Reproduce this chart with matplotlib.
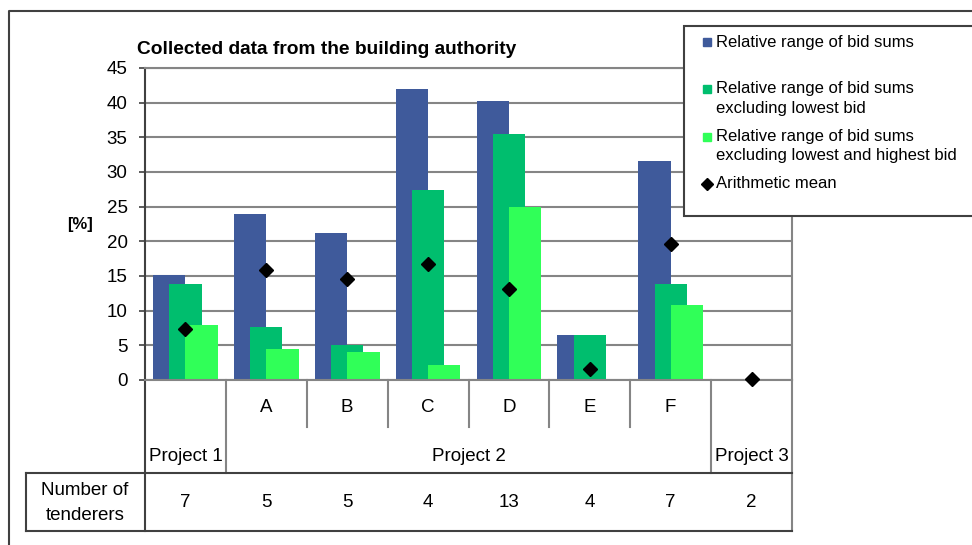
import numpy as np
import matplotlib.pyplot as plt
from matplotlib.patches import Rectangle
from matplotlib.lines import Line2D

plt.rcParams['font.family'] = ['Liberation Sans', 'DejaVu Sans']

# data
sub_labels = ['', 'A', 'B', 'C', 'D', 'E', 'F', '']
project_labels = ['Project 1', 'Project 2', 'Project 3']
project_spans = [(0, 0), (1, 6), (7, 7)]
range_all = [15.2, 24.0, 21.2, 41.9, 40.3, 6.5, 31.6, 0.2]
range_excl_low = [13.8, 7.7, 5.1, 27.4, 35.5, 6.5, 13.8, 0.0]
range_excl_low_high = [8.0, 4.5, 4.1, 2.2, 25.0, 0.0, 10.8, 0.0]
arith_mean = [7.3, 15.8, 14.6, 16.8, 13.1, 1.6, 19.6, 0.15]
tenderers = [7, 5, 5, 4, 13, 4, 7, 2]
yticks = [0, 5, 10, 15, 20, 25, 30, 35, 40, 45]
legend_labels = ['Relative range of bid sums',
                 'Relative range of bid sums\nexcluding lowest bid',
                 'Relative range of bid sums\nexcluding lowest and highest bid',
                 'Arithmetic mean']

BLUE = '#3F5A9B'
GREEN = '#00BE6E'
LGREEN = '#30FF58'
DARK = '#404040'
GRAY = '#858585'

W, H = 972, 545


def fx(px):
    return px / W


def fy(py):
    return 1 - py / H


fig = plt.figure(figsize=(9.72, 5.45), dpi=100)
ax = fig.add_axes([fx(145), fy(380), 647 / W, 312 / H])

x = np.arange(len(range_all))
ax.bar(x - 0.2, range_all, 0.4, color=BLUE, zorder=2)
ax.bar(x, range_excl_low, 0.4, color=GREEN, zorder=2)
ax.bar(x + 0.2, range_excl_low_high, 0.4, color=LGREEN, zorder=2)
ax.plot(x, arith_mean, 'D', color='black', ms=7, ls='none', zorder=4, clip_on=False)

ax.set_xlim(-0.5, len(x) - 0.5)
ax.set_ylim(0, 45)
ax.set_yticks(yticks)
ax.set_xticks([])
ax.tick_params(axis='y', length=4.5, width=1.2, color=DARK, pad=8, labelsize=13.5)
ax.yaxis.grid(True, color=GRAY, lw=1.5)
ax.set_axisbelow(True)
for side in ['top', 'right', 'bottom']:
    ax.spines[side].set_color(GRAY)
    ax.spines[side].set_linewidth(1.5)
ax.spines['left'].set_color(DARK)
ax.spines['left'].set_linewidth(1.5)

# category area below the axis
tx = ax.get_xaxis_transform()
y_half, y_row, y_tab = -0.1506, -0.298, -0.484
edges = set()
for a, b in project_spans:
    edges.add(a)
    edges.add(b + 1)
for b in range(len(x) + 1):
    xb = b - 0.5
    if b in (0, len(x)):
        ax.plot([xb, xb], [0, y_tab], color=DARK if b == 0 else GRAY, lw=1.5,
                transform=tx, clip_on=False)
    elif b in edges:
        ax.plot([xb, xb], [0, y_row], color=GRAY, lw=1.5, transform=tx, clip_on=False)
    else:
        ax.plot([xb, xb], [0, y_half], color=GRAY, lw=1.5, transform=tx, clip_on=False)

for i, s in enumerate(sub_labels):
    ax.text(i, -0.0897, s, transform=tx, ha='center', va='center', fontsize=13.5)
for (a, b), s in zip(project_spans, project_labels):
    ax.text((a + b) / 2, -0.2436, s, transform=tx, ha='center', va='center', fontsize=13.5)
for i, n in enumerate(tenderers):
    ax.text(i, -0.394, str(n), transform=tx, ha='center', va='center', fontsize=13.5)

# table of tenderers
ta = ax.transAxes
x_tab = (26 - 145) / 647
for yy in (y_row, y_tab):
    ax.plot([x_tab, 1], [yy, yy], color=DARK, lw=1.5, transform=ta, clip_on=False)
ax.plot([x_tab, x_tab], [y_row, y_tab], color=DARK, lw=1.5, transform=ta, clip_on=False)
ax.text((85 - 145) / 647, -0.394, 'Number of\ntenderers', transform=ta,
        ha='center', va='center', fontsize=13.5, linespacing=1.6)

# titles
fig.text(fx(137), fy(49), 'Collected data from the building authority',
         fontsize=13.8, fontweight='bold', va='center', ha='left')
fig.text(fx(80), fy(224), '[%]', fontsize=12, fontweight='bold', ha='center', va='center')

# outer frame
fig.add_artist(Line2D([fx(9), fx(9), fx(975)], [fy(548), fy(11), fy(11)],
                      color=DARK, lw=1.5, transform=fig.transFigure))

# legend box
fig.add_artist(Rectangle((fx(684), fy(216)), fx(980) - fx(684), fy(26) - fy(216),
                         transform=fig.transFigure, facecolor='white',
                         edgecolor=DARK, lw=1.5, zorder=5))
leg_y = [42, 98.5, 146, 184]
leg_colors = [BLUE, GREEN, LGREEN, None]
for lab, yy, c in zip(legend_labels, leg_y, leg_colors):
    first = yy if '\n' not in lab else yy - 9.5
    if c is None:
        fig.add_artist(Line2D([fx(707)], [fy(first)], marker='D', color='black', ms=6,
                              ls='none', transform=fig.transFigure, zorder=6))
    else:
        fig.add_artist(Rectangle((fx(703), fy(first + 4)), 8 / W, 8 / H, color=c,
                                 transform=fig.transFigure, zorder=6))
    fig.text(fx(716), fy(yy), lab, fontsize=12, va='center', ha='left',
             linespacing=1.4, zorder=6)

fig.savefig('out.png', dpi=100)
